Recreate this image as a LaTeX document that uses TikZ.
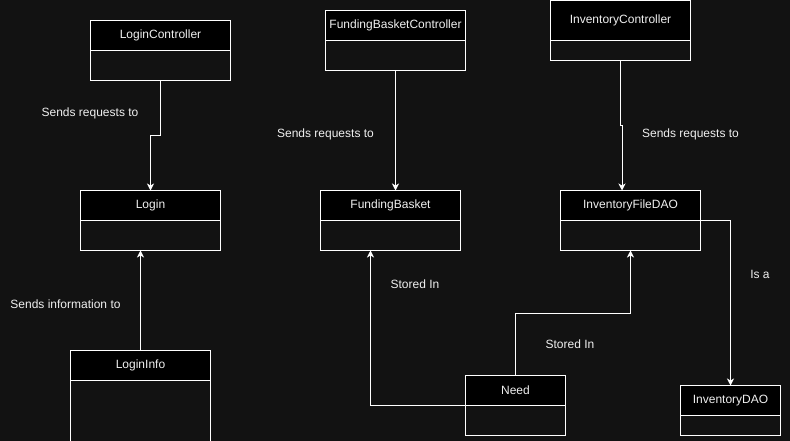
\documentclass[tikz,border=0pt]{standalone}
\usepackage{fontspec}
\setmainfont{Liberation Sans}
\usetikzlibrary{arrows.meta}
\definecolor{bg}{RGB}{18,18,18}
\definecolor{txt}{RGB}{240,240,240}
\tikzset{
  hdr/.style={draw=white, fill=black, line width=1pt, inner sep=0pt, outer sep=0pt, anchor=north west, text=txt, font=\fontsize{12pt}{14pt}\selectfont},
  bodybox/.style={draw=white, fill=bg, line width=1pt, inner sep=0pt, outer sep=0pt, anchor=north},
  lbl/.style={text=txt, inner sep=0pt, font=\fontsize{12pt}{14pt}\selectfont},
  conn/.style={draw=white, line width=1pt, -{Stealth[length=7pt,width=7pt,inset=2pt]}},
}
\begin{document}
\begin{tikzpicture}[x=1pt,y=-1pt]
\useasboundingbox (0,0) rectangle (790,441);
\fill[bg] (0,0) rectangle (790,441);
\begin{scope}
\clip (0,0) rectangle (790,441);
% LoginController
\node[hdr, minimum width=140, minimum height=30] (lc) at (90.5,20.5) {LoginController};
\node[bodybox, minimum width=140, minimum height=30] (lcb) at (lc.south) {};
% Login
\node[hdr, minimum width=140, minimum height=30] (lg) at (80.5,190.5) {Login};
\node[bodybox, minimum width=140, minimum height=30] (lgb) at (lg.south) {};
% LoginInfo
\node[hdr, minimum width=140, minimum height=30] (li) at (70.5,350.5) {LoginInfo};
\node[bodybox, minimum width=140, minimum height=70] (lib) at (li.south) {};
% FundingBasketController
\node[hdr, minimum width=140, minimum height=30] (fbc) at (325.5,10.5) {FundingBasketController};
\node[bodybox, minimum width=140, minimum height=30] (fbcb) at (fbc.south) {};
% FundingBasket
\node[hdr, minimum width=140, minimum height=30] (fb) at (320.5,190.5) {FundingBasket};
\node[bodybox, minimum width=140, minimum height=30] (fbb) at (fb.south) {};
% InventoryController
\node[hdr, minimum width=140, minimum height=40] (ic) at (550.5,0.5) {InventoryController};
\node[bodybox, minimum width=140, minimum height=20] (icb) at (ic.south) {};
% InventoryFileDAO
\node[hdr, minimum width=140, minimum height=30] (ifd) at (560.5,190.5) {InventoryFileDAO};
\node[bodybox, minimum width=140, minimum height=30] (ifdb) at (ifd.south) {};
% InventoryDAO
\node[hdr, minimum width=100, minimum height=30] (idao) at (680.5,385.5) {InventoryDAO};
\node[bodybox, minimum width=100, minimum height=20] (idaob) at (idao.south) {};
% Need
\node[hdr, minimum width=100, minimum height=30] (nd) at (465.5,375.5) {Need};
\node[bodybox, minimum width=100, minimum height=30] (ndb) at (nd.south) {};
\end{scope}
% connectors
\draw[conn] (lcb.south) -- ++(0,55) -| (lg.north);
\draw[conn] (fbcb.south) -- (fbcb.south |- fb.north);
\draw[conn] (icb.south) -- ++(0,65) -- ++(1.5,0) -- ([xshift=1.5pt]icb.south |- ifd.north);
\draw[conn] (ifd.south east) -| (idao.north);
\draw[conn] (li.north) -- (li.north |- lgb.south);
\draw[conn] (nd.south west) -| ([xshift=-20pt]fbb.south);
\draw[conn] (nd.north) -- ++(0,-62.5) -| (ifdb.south);
% labels
\node[lbl] (t1) at (90,113) {Sends requests to};
\node[lbl] (t2) at (325.5,134) {Sends requests to};
\node[lbl] (t3) at (690.5,134) {Sends requests to};
\node[lbl] (t4) at (65.5,304) {Sends information to};
\node[lbl] (t5) at (415,284) {Stored In};
\node[lbl] (t6) at (570,344) {Stored In};
\node[lbl] (t7) at (760,274) {Is a};
\end{tikzpicture}
\end{document}
